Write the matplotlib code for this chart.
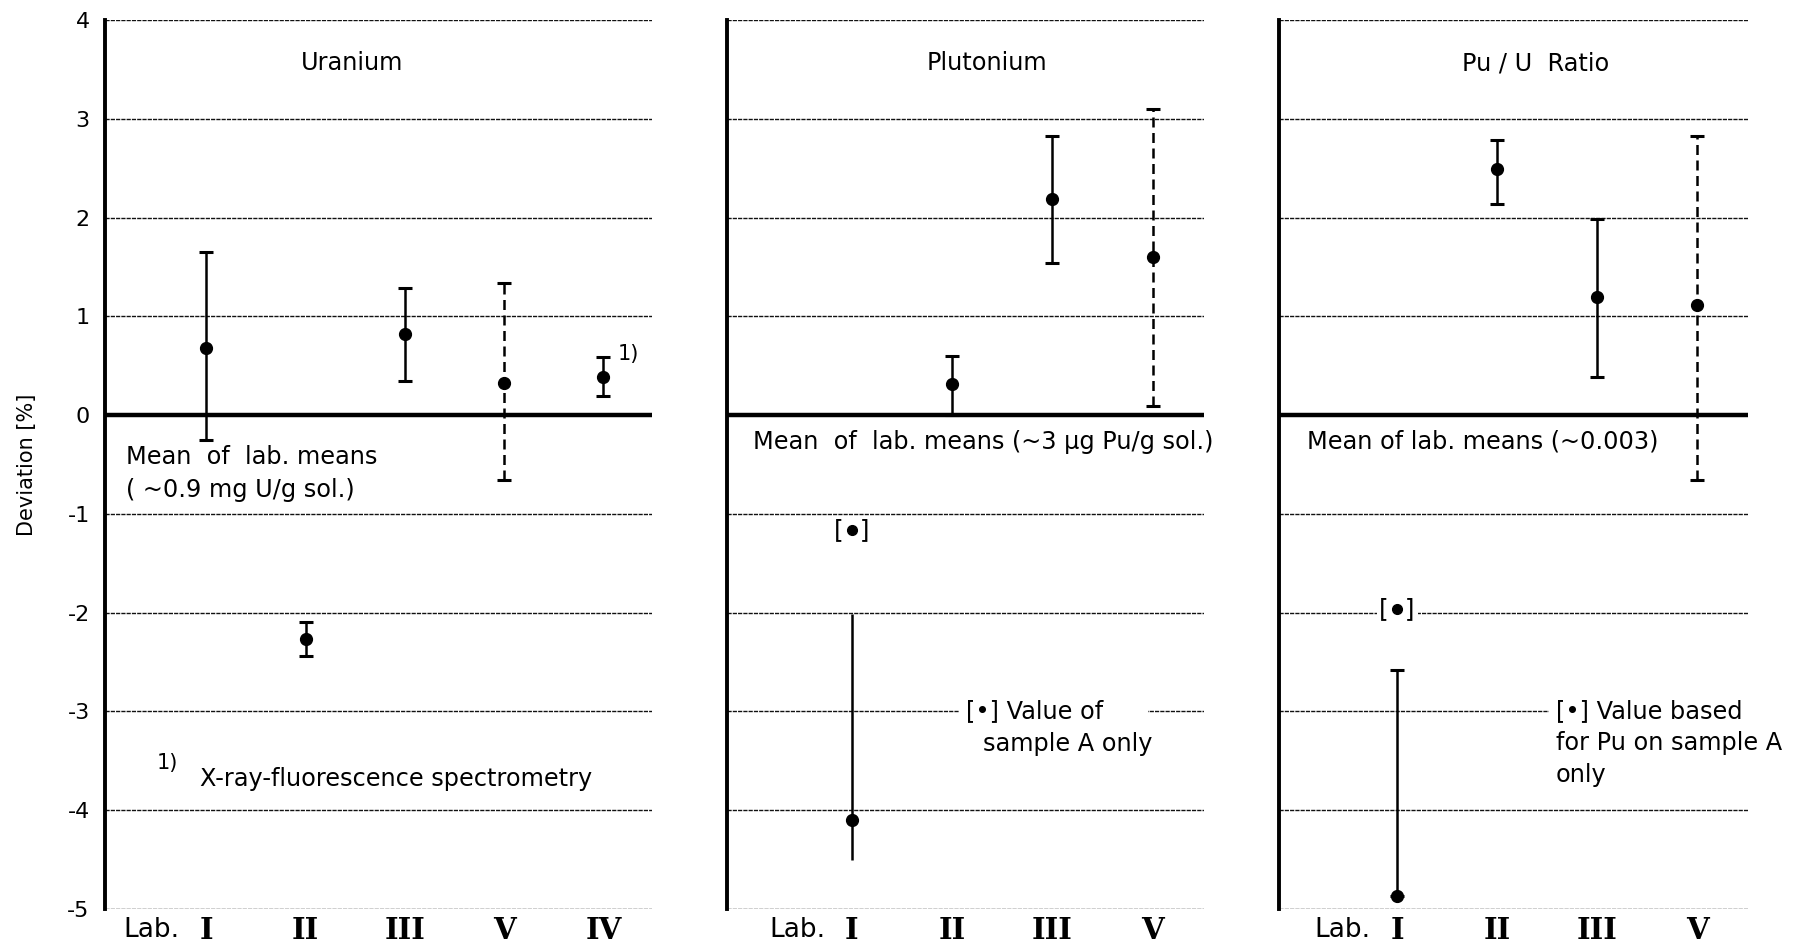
import matplotlib
matplotlib.use("Agg")
import matplotlib.pyplot as plt
import matplotlib.transforms as mtransforms

plt.rcParams['font.family'] = ['DejaVu Sans']
plt.rcParams['axes.unicode_minus'] = False

# ---- data -------------------------------------------------------------
u_labs = ['I', 'II', 'III', 'V', 'IV']
u_val = [0.68, -2.27, 0.82, 0.33, 0.39]
u_lo = [-0.25, -2.44, 0.35, -0.66, 0.19]
u_hi = [1.65, -2.09, 1.29, 1.34, 0.59]
u_dashed = [False, False, False, True, False]

pu_labs = ['I', 'II', 'III', 'V']
pu_val = [-4.10, 0.31, 2.19, 1.60]
pu_lo = [-4.50, 0.00, 1.54, 0.09]
pu_hi = [-2.01, 0.60, 2.83, 3.10]
pu_dashed = [False, False, False, True]
pu_sample_a = -1.16   # Lab I, sample A only

r_labs = ['I', 'II', 'III', 'V']
r_val = [-4.87, 2.49, 1.20, 1.11]
r_lo = [-4.87, 2.14, 0.39, -0.66]
r_hi = [-2.58, 2.79, 1.99, 2.83]
r_dashed = [False, False, False, True]
r_sample_a = -1.96    # Lab I, Pu from sample A only

y_ticks = [4, 3, 2, 1, 0, -1, -2, -3, -4, -5]

# ---- figure -----------------------------------------------------------
W, H = 1797, 948
fig = plt.figure(figsize=(W / 100, H / 100), dpi=100)

bottom = 1 - 909 / H
top = 1 - 20 / H


def make_axes(x0, x1):
    return fig.add_axes([x0 / W, bottom, (x1 - x0) / W, top - bottom])


ax1 = make_axes(105, 652)
ax2 = make_axes(727, 1204)
ax3 = make_axes(1279, 1748)

FS = 17.3


def style(ax, xlim, labels, show_y):
    ax.set_xlim(*xlim)
    ax.set_ylim(-5, 4)
    ax.set_yticks(y_ticks)
    ax.set_axisbelow(True)
    ax.yaxis.grid(True, linestyle=(0, (3, 0.8)), linewidth=1.0, color='#111111')
    ax.xaxis.grid(False)
    for s in ('top', 'right', 'bottom'):
        ax.spines[s].set_visible(False)
    ax.spines['left'].set_linewidth(2.8)
    ax.axhline(0, color='black', linewidth=3.2, zorder=1.5)
    ax.set_xticks(range(1, len(labels) + 1))
    ax.set_xticklabels(labels, fontsize=21, fontweight='bold',
                       family='DejaVu Serif')
    ax.tick_params(axis='x', length=0, pad=5)
    ax.tick_params(axis='y', length=0, pad=11, labelsize=16)
    if not show_y:
        ax.tick_params(axis='y', labelleft=False)
    # "Lab." in front of the first laboratory numeral
    trans = mtransforms.blended_transform_factory(ax.transData, ax.transAxes)
    ax.annotate('Lab.', xy=(1, 0), xycoords=trans, xytext=(-19, -6),
                textcoords='offset points', ha='right', va='top', fontsize=19)


def draw_bars(ax, vals, lo, hi, dashed, caps=None):
    for i, (v, l, h, d) in enumerate(zip(vals, lo, hi, dashed)):
        cs = 5 if (caps is None or caps[i]) else 0
        _, capl, bars = ax.errorbar([i + 1], [v], yerr=[[v - l], [h - v]],
                                    fmt='o', color='black', ms=8.5,
                                    elinewidth=1.8, capsize=cs, capthick=2.2,
                                    zorder=4)
        if d:
            bars[0].set_linestyle((0, (4, 2.2)))


def bracket_point(ax, x, y, knockout):
    kw = dict(ha='center', va='center', fontsize=18, zorder=3)
    if knockout:
        kw['bbox'] = dict(facecolor='white', edgecolor='none', pad=2)
    ax.text(x, y, '[  ]', **kw)
    ax.plot([x], [y], 'o', color='black', ms=7, zorder=5)


# ---- Uranium ----------------------------------------------------------
style(ax1, (-0.02, 5.49), u_labs, True)
draw_bars(ax1, u_val, u_lo, u_hi, u_dashed)
ax1.set_ylabel('Deviation [%]', fontsize=15)
ax1.yaxis.set_label_coords(-68 / 547, 0.5)
ax1.text(2.47, 3.56, 'Uranium', ha='center', va='center', fontsize=FS)
ax1.text(0.19, -0.42, 'Mean  of  lab. means', ha='left', va='center', fontsize=FS)
ax1.text(0.19, -0.76, '( ~0.9 mg U/g sol.)', ha='left', va='center', fontsize=FS)
ax1.annotate('1)', xy=(5, u_hi[4]), xytext=(10, 2), textcoords='offset points',
             ha='left', va='center', fontsize=15)
ax1.text(0.5, -3.52, '1)', ha='left', va='center', fontsize=15)
ax1.text(0.94, -3.68, 'X-ray-fluorescence spectrometry', ha='left',
         va='center', fontsize=FS)

# ---- Plutonium --------------------------------------------------------
style(ax2, (-0.24, 4.51), pu_labs, False)
draw_bars(ax2, pu_val, pu_lo, pu_hi, pu_dashed, caps=[False, True, True, True])
bracket_point(ax2, 1, pu_sample_a, False)
ax2.text(2.35, 3.56, 'Plutonium', ha='center', va='center', fontsize=FS)
ax2.text(0.02, -0.27, 'Mean  of  lab. means (~3 µg Pu/g sol.)', ha='left',
         va='center', fontsize=FS)
ax2.text(2.14, -3.0, '[•] Value of     ', ha='left', va='center', fontsize=FS,
         bbox=dict(facecolor='white', edgecolor='none', pad=5), zorder=3)
ax2.text(2.31, -3.33, 'sample A only', ha='left', va='center', fontsize=FS)

# ---- Pu/U ratio -------------------------------------------------------
style(ax3, (-0.18, 4.51), r_labs, False)
draw_bars(ax3, r_val, r_lo, r_hi, r_dashed)
bracket_point(ax3, 1, r_sample_a, True)
ax3.text(2.39, 3.56, 'Pu / U  Ratio', ha='center', va='center', fontsize=FS)
ax3.text(0.1, -0.27, 'Mean of lab. means (~0.003)', ha='left', va='center',
         fontsize=FS)
ax3.text(2.59, -3.0, '[•] Value based    ', ha='left', va='center',
         fontsize=FS, bbox=dict(facecolor='white', edgecolor='none', pad=5),
         zorder=3)
ax3.text(2.59, -3.32, 'for Pu on sample A', ha='left', va='center', fontsize=FS)
ax3.text(2.59, -3.64, 'only', ha='left', va='center', fontsize=FS)

fig.savefig('out.png', dpi=100, facecolor='white')
